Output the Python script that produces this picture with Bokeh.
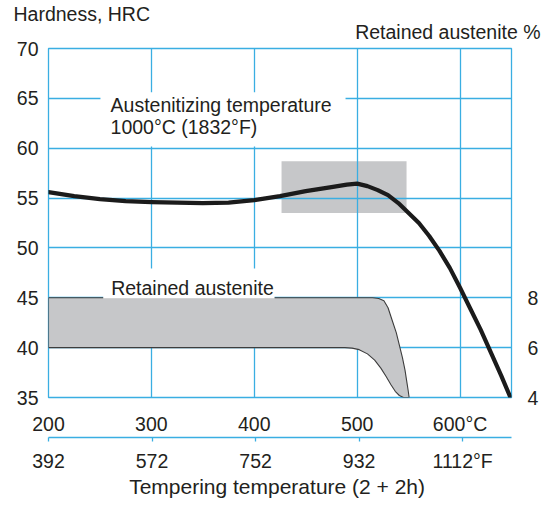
from bokeh.plotting import figure
from bokeh.models import Range1d, LinearAxis, FixedTicker, Label, BoxAnnotation, Title
from bokeh.embed import file_html
from bokeh.resources import INLINE

# ---------------- data ----------------
# Hardness after tempering (2 + 2h), austenitized at 1000 °C
temp_c = [200, 225, 250, 275, 300, 325, 350, 375, 400, 425, 450, 475, 490,
          500, 510, 520, 530, 540, 550, 560, 570, 580, 590, 600, 610, 620,
          630, 640, 649]
hardness_hrc = [55.6, 55.2, 54.9, 54.7, 54.6, 54.55, 54.5, 54.55, 54.8, 55.2,
                55.7, 56.1, 56.35, 56.45, 56.2, 55.8, 55.3, 54.5, 53.5, 52.5,
                51.2, 49.7, 48.0, 46.0, 43.9, 41.8, 39.5, 37.2, 35.0]

# Retained austenite band (%), upper and lower boundary
ra_upper_temp = [200, 515, 521, 526, 530, 534, 538, 541, 544, 546.5, 548, 549.5, 550.5]
ra_upper_pct = [8.0, 8.0, 7.97, 7.88, 7.6, 7.1, 6.6, 6.1, 5.6, 5.1, 4.7, 4.3, 4.0]
ra_lower_temp = [200, 488, 495, 502, 510, 517, 523, 528, 533, 537, 541, 545, 550.5]
ra_lower_pct = [6.0, 6.0, 5.98, 5.92, 5.75, 5.5, 5.18, 4.85, 4.5, 4.25, 4.08, 4.0, 4.0]

# Shaded hardness range box
range_temp = [426.5, 548]
range_hrc = [53.5, 58.7]

# Axes ticks
c_ticks = [200, 300, 400, 500, 600]
f_ticks = [392, 572, 752, 932, 1112]
hrc_ticks = [35, 40, 45, 50, 55, 60, 65, 70]
ra_ticks = [4, 6, 8]

# ---------------- style ----------------
FONT = "Liberation Sans"
FS = "19.5px"
TXT = "#231f20"
BLUE = "#3aaee2"
GRAY = "#c6c7c9"

p = figure(frame_width=463, frame_height=349,
           x_range=Range1d(200, 650), y_range=Range1d(35, 70),
           min_border_left=48, min_border_right=37, min_border_top=48,
           min_border_bottom=0, output_backend="svg", toolbar_location=None)
p.background_fill_color = "white"
p.border_fill_color = "white"
p.outline_line_color = BLUE
p.outline_line_width = 1.3
p.extra_y_ranges = {"ra": Range1d(4, 4 + 35 * 0.4)}
p.extra_x_ranges = {"F": Range1d(392, 1197)}

# titles above the frame
p.title.text = "Hardness, HRC"
p.title.align = "left"
p.title.offset = -35
p.title.standoff = -22
p.title.text_font = FONT
p.title.text_font_size = FS
p.title.text_font_style = "normal"
p.title.text_color = TXT
p.add_layout(Title(text="Retained austenite %", align="right", offset=-29,
                   standoff=11, text_font=FONT, text_font_size=FS,
                   text_font_style="normal", text_color=TXT), "above")

p.xgrid.ticker = FixedTicker(ticks=[300, 400, 500, 600])
p.ygrid.ticker = FixedTicker(ticks=[40, 45, 50, 55, 60, 65])
p.grid.grid_line_color = BLUE
p.grid.grid_line_width = 1.3


def style_axis(ax, standoff, tick_out=0):
    ax.axis_line_color = None
    ax.major_tick_line_color = None
    ax.minor_tick_line_color = None
    ax.major_tick_out = tick_out
    ax.major_tick_in = 0
    ax.major_label_standoff = standoff
    ax.major_label_text_font = FONT
    ax.major_label_text_font_size = FS
    ax.major_label_text_color = TXT


p.xaxis.ticker = FixedTicker(ticks=c_ticks)
p.xaxis.major_label_overrides = {600: "600°C"}
style_axis(p.xaxis[0], 15)
p.yaxis.ticker = FixedTicker(ticks=hrc_ticks)
style_axis(p.yaxis[0], 10)

ra_axis = LinearAxis(y_range_name="ra", ticker=FixedTicker(ticks=ra_ticks))
style_axis(ra_axis, 16)
p.add_layout(ra_axis, "right")

# Fahrenheit axis (second bottom axis)
fx = LinearAxis(x_range_name="F", ticker=FixedTicker(ticks=f_ticks))
fx.major_label_overrides = {1112: "1112°F"}
fx.axis_line_color = BLUE
fx.axis_line_width = 1.3
fx.major_tick_line_color = BLUE
fx.major_tick_line_width = 1.3
fx.major_tick_out = 4
fx.major_tick_in = 0
fx.minor_tick_line_color = None
fx.major_label_standoff = 8
fx.major_label_text_font = FONT
fx.major_label_text_font_size = FS
fx.major_label_text_color = TXT
fx.axis_label = "Tempering temperature  (2 + 2h)"
fx.axis_label_standoff = 0
fx.axis_label_text_font = FONT
fx.axis_label_text_font_size = "21px"
fx.axis_label_text_font_style = "normal"
fx.axis_label_text_color = TXT
p.add_layout(fx, "below")

# shaded hardness range (beneath grid)
p.quad(left=[range_temp[0]], right=[range_temp[1]],
       bottom=[range_hrc[0]], top=[range_hrc[1]],
       fill_color=GRAY, line_color=None, level="image")

# white background behind the austenitizing note (covers grid only)
p.add_layout(BoxAnnotation(left=250.5, right=488.7, bottom=60.17, top=65.62,
                           fill_color="white", fill_alpha=1, line_color=None,
                           level="underlay"))

# retained austenite band
band_x = ra_upper_temp + ra_lower_temp[::-1]
band_y = ra_upper_pct + ra_lower_pct[::-1]
p.patch(band_x, band_y, y_range_name="ra", fill_color=GRAY,
        line_color="#3d3d3d", line_width=1.1)

# hardness curve
p.line(temp_c, hardness_hrc, line_color="#1b1b1b", line_width=4.2,
       line_join="round", line_cap="round")

# white background behind "Retained austenite"
p.add_layout(BoxAnnotation(left=253.2, right=419.7, bottom=44.93, top=47.94,
                           fill_color="white", fill_alpha=1, line_color=None))


def add_label(x, y, text):
    p.add_layout(Label(x=x, y=y, text=text, text_font=FONT, text_font_size=FS,
                       text_color=TXT, text_align="left",
                       text_baseline="alphabetic"))


add_label(260.3, 64.36, "Austenitizing temperature")
add_label(260.3, 62.11, "1000°C (1832°F)")
add_label(260.9, 45.96, "Retained austenite")

open("out.html", "w").write(file_html(p, INLINE))
